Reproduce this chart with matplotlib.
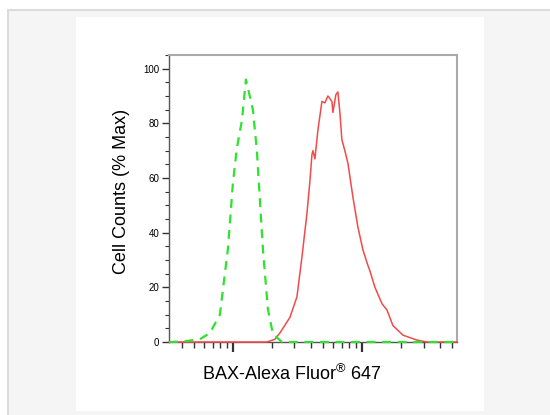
import matplotlib
matplotlib.use('Agg')
import matplotlib.pyplot as plt
from matplotlib.patches import Rectangle
from matplotlib.ticker import LogLocator, NullFormatter, MultipleLocator

plt.rcParams['font.family'] = ['Liberation Sans', 'DejaVu Sans']
plt.rcParams['mathtext.fontset'] = 'custom'
plt.rcParams['mathtext.rm'] = 'Liberation Sans'

# isotype control (green dashed)
ctrl_x = [320, 337, 425, 555, 664, 793, 915, 1000, 1074, 1175, 1262, 1307,
          1429, 1535, 1619, 1709, 1868, 2042, 2398, 54500]
ctrl_y = [0, 0, 0.3, 1, 3.3, 10, 34, 58, 71, 81, 96, 93,
          85, 70, 52, 34, 12, 3, 0, 0]

# BAX stained sample (red solid)
bax_x = [320, 1836, 2118, 2313, 2766, 3135, 3427, 3748, 3954, 4097, 4170, 4321,
         4560, 4898, 5166, 5449, 5851, 5957, 6283, 6511, 6745, 6990, 7373, 7780,
         8511, 9306, 10180, 10940, 11530, 12610, 14300, 15630, 17380, 20790,
         26690, 31920, 54500]
bax_y = [0, 0, 1, 3.3, 9, 16.5, 31, 47, 59, 68.5, 70, 67,
         77.6, 88, 87.5, 90, 88, 84, 90.5, 91.5, 84, 74, 70, 65.5,
         53, 42, 33.7, 29, 26, 20, 14, 11.7, 6, 2.5,
         0.7, 0, 0]

y_ticks = [0, 20, 40, 60, 80, 100]

W, H = 550, 415
fig = plt.figure(figsize=(5.5, 4.15), dpi=100)
fig.patch.set_facecolor('white')


def box(x0, y0, x1, y1, **kw):
    fig.add_artist(Rectangle((x0 / W, 1 - y1 / H), (x1 - x0) / W, (y1 - y0) / H,
                             transform=fig.transFigure, zorder=-10, **kw))


# page background
box(8, 10, 560, 425, facecolor='#f5f5f5', edgecolor='#dcdcdc', linewidth=1.5)
box(76, 17, 484, 411, facecolor='white', edgecolor='none')

ax = fig.add_axes([169 / W, 1 - 342 / H, 288 / W, 287 / H])
ax.set_facecolor('white')

ax.plot(bax_x, bax_y, color='#f24a4a', lw=1.1, clip_on=False, zorder=3)
ax.plot(ctrl_x, ctrl_y, color='#2ee22e', lw=1.6, linestyle=(0, (4, 3)),
        clip_on=False, zorder=4)

ax.set_xscale('log')
ax.set_xlim(320, 54500)
ax.set_ylim(0, 105)

ax.xaxis.set_major_locator(LogLocator(base=10))
ax.xaxis.set_minor_locator(LogLocator(base=10, subs=range(2, 10)))
ax.xaxis.set_major_formatter(NullFormatter())
ax.xaxis.set_minor_formatter(NullFormatter())
ax.set_yticks(y_ticks)
ax.yaxis.set_minor_locator(MultipleLocator(5))

ax.tick_params(axis='x', which='major', length=7, width=1.6, color='#333333')
ax.tick_params(axis='x', which='minor', length=4, width=1.0, color='#333333')
ax.tick_params(axis='y', which='major', length=5, width=1.0, color='#333333',
               labelsize=7, pad=2)
ax.tick_params(axis='y', which='minor', length=3, width=0.8, color='#333333')

for s in ['left', 'bottom']:
    ax.spines[s].set_color('#555555')
    ax.spines[s].set_linewidth(1.0)
for s in ['top', 'right']:
    ax.spines[s].set_color('#aaaaaa')
    ax.spines[s].set_linewidth(1.5)

ax.set_ylabel('Cell Counts (% Max)', fontsize=13)
ax.yaxis.set_label_coords(-0.135, 0.525)
ax.set_xlabel('BAX-Alexa Fluor$^{\\mathrm{®}}$ 647', fontsize=13)
ax.xaxis.set_label_coords(0.425, -0.075)

fig.savefig('out.png', dpi=100)
